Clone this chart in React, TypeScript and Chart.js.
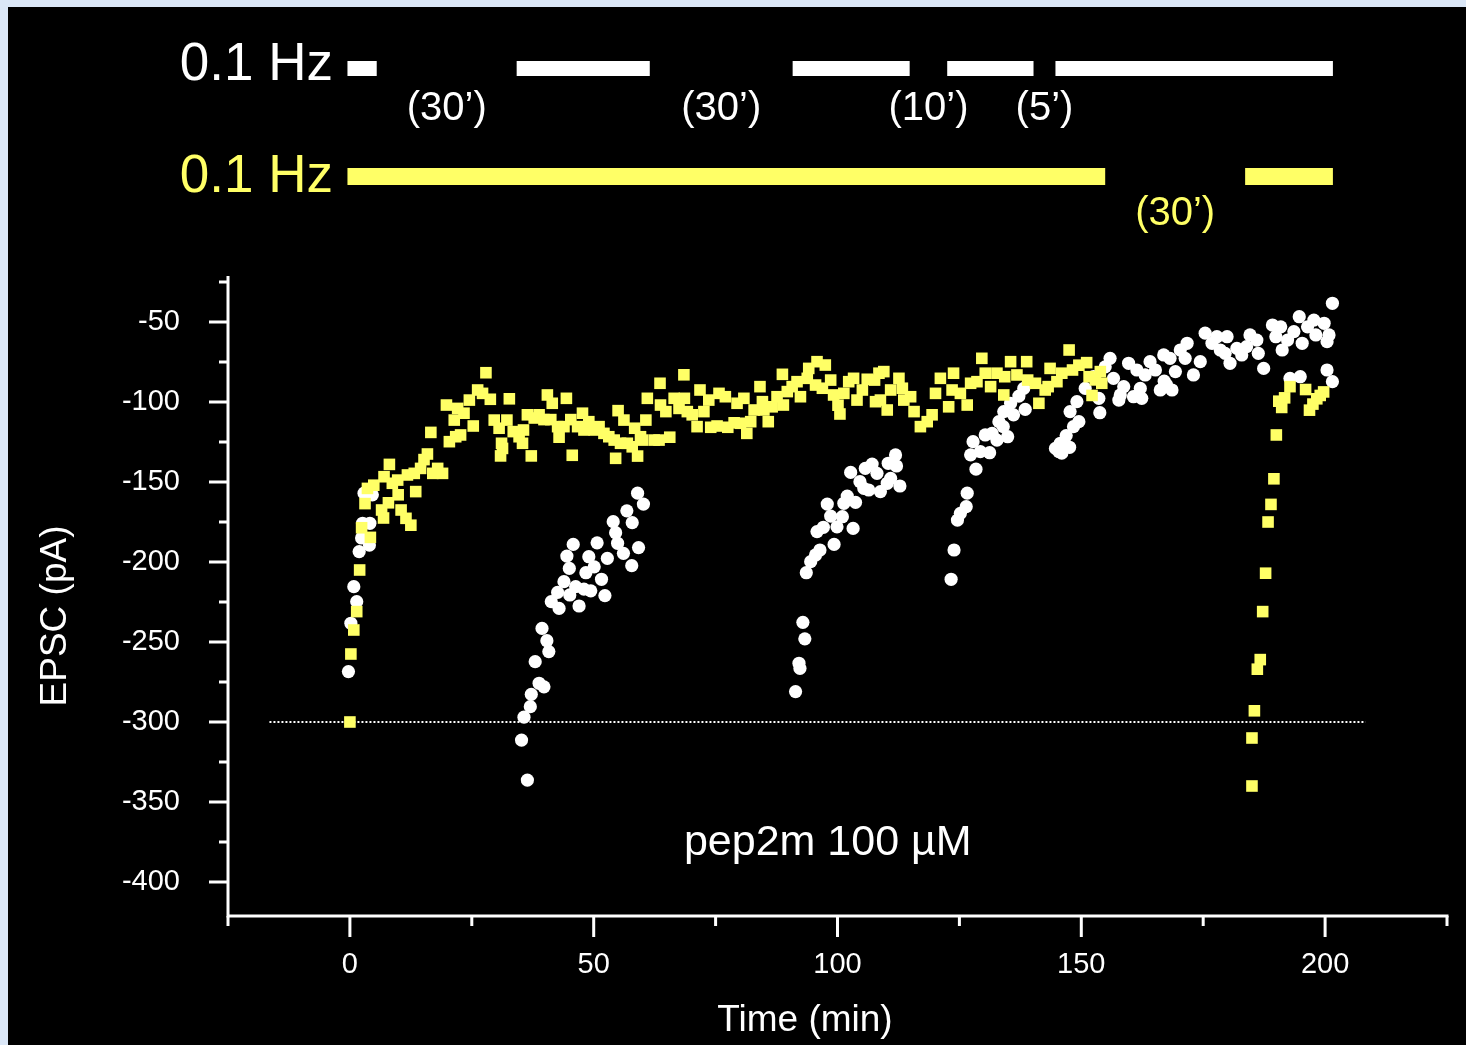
import React, { useEffect, useRef } from 'react';
import { Chart, registerables } from 'chart.js';

Chart.register(...registerables);

// ---- data ----
const yellowTime = [
  0, 0.2, 0.8, 1.4, 2.0, 2.4, 3.1, 3.6, 4.2, 4.9, 6.5, 6.9, 7.0, 7.9, 8.1, 8.7, 9.8, 9.9, 10.5, 11.5,
  11.8, 12.5, 13.2, 13.5, 14.5, 15.2, 15.9, 16.6, 17.0, 18.0, 19.0, 19.8, 20.4, 21.4, 21.7, 22.1, 22.7, 23.4, 24.5, 25.3,
  26.2, 27.2, 27.9, 28.8, 29.6, 30.6, 30.9, 31.1, 31.3, 32.2, 32.7, 33.5, 34.7, 35.4, 35.6, 36.4, 37.2, 37.8, 38.8, 39.8,
  40.5, 41.2, 41.5, 42.6, 42.9, 43.9, 44.4, 45.3, 45.6, 46.7, 47.7, 48.0, 49.0, 50.1, 51.1, 52.1, 53.1, 54.2, 54.5, 55.0,
  55.5, 56.2, 56.9, 57.9, 58.4, 59.0, 59.6, 60.0, 60.7, 61.0, 62.4, 63.4, 63.6, 63.7, 64.8, 65.6, 66.5, 67.5, 68.5, 68.6,
  69.2, 70.2, 71.2, 71.8, 72.6, 73.6, 74.0, 75.3, 75.7, 77.0, 77.5, 78.8, 79.4, 80.1, 80.8, 81.4, 82.2, 82.9, 84.1, 84.6,
  84.9, 85.8, 86.6, 87.6, 88.7, 88.9, 89.7, 90.7, 91.7, 92.4, 93.8, 94.1, 95.5, 95.8, 96.9, 97.5, 98.6, 99.2, 100.1, 100.5,
  101.3, 102.3, 103.3, 104.0, 105.1, 106.1, 107.6, 107.8, 108.5, 108.8, 109.5, 110.2, 110.9, 112.6, 113.3, 113.6, 115.0, 115.7, 117.0, 118.4,
  119.4, 120.1, 121.1, 122.8, 123.5, 123.8, 125.2, 126.6, 127.3, 128.6, 129.6, 130.3, 131.4, 132.7, 134.1, 134.3, 135.5, 136.8, 138.8, 139.0,
  140.6, 141.3, 142.6, 143.2, 143.6, 145.0, 146.0, 147.5, 148.2, 149.5, 151.1, 151.6, 152.2, 152.9, 153.9, 154.2,
  185.0, 185.0, 185.5, 186.1, 186.7, 187.2, 187.8, 188.3, 188.9, 189.5, 190.0, 190.5, 191.1, 191.7, 192.8, 196.0, 196.8, 197.5, 198.3, 199.0,
  199.7,
];
const yellowEpsc = [
  -300, -257.5, -242.5, -231, -205, -178.6, -163.5, -154, -184.6, -152, -167.5, -172.5, -146.7, -163, -139, -150.8, -148.8, -158, -167.5, -172.7,
  -145.6, -177, -144.6, -156, -141.5, -136, -132.5, -119, -144.6, -141.5, -144.6, -101.9, -124.8, -111.3, -121.7, -104, -120.6, -107, -98.8, -115,
  -92.5, -94.6, -81.7, -98.3, -111.3, -116.4, -133.7, -125.8, -129, -111.3, -98, -118.5, -121.7, -125.8, -117.5, -108, -133.7, -110, -108, -111,
  -95.6, -111, -100.8, -115.4, -122, -115.4, -97.7, -111, -133.3, -115.4, -107, -117.5, -112.3, -117.5, -115.4, -119.6, -121.7, -123.8, -135.2, -105.4,
  -125.8, -111.3, -125.8, -128, -116.4, -133.8, -121.7, -123.8, -111.3, -97.7, -123.8, -123.8, -88.3, -101.9, -106, -122, -97.7, -104, -83, -97.7,
  -106, -108, -115.4, -92.5, -106, -98.8, -115.8, -115, -94.6, -96.7, -115.8, -113, -100.8, -113.3, -97.7, -119.6, -112.3, -105, -90.4, -99.8,
  -105, -112.3, -103, -96.7, -82.7, -101.9, -93.5, -90.4, -87.3, -96.7, -85.2, -79, -89.4, -74.8, -91.4, -76.9, -86.3, -95.6, -102, -107.5,
  -94.6, -87.3, -85.2, -98.8, -92.5, -85.8, -86.3, -99.8, -82, -98.8, -81, -105, -92.5, -85.2, -91.4, -98.8, -96.7, -106, -115.4, -112.3,
  -108, -94.6, -85.2, -103, -92.5, -82, -94.6, -101.9, -88.3, -87.3, -72.7, -82, -90.4, -82, -95.6, -84.2, -74.8, -83.1, -74.8, -86.3,
  -88.3, -100.8, -92.5, -90.4, -79, -87.3, -82, -67.5, -80, -77, -75.4, -84.2, -95.9, -86.2, -81, -88.3,
  -340, -310, -293, -267, -261, -231, -207, -175, -164, -148, -120.6, -99.5, -103.4, -97.4, -90.4, -92.2, -105.1, -101.3, -98, -95.9,
  -93.7,
];
const whiteTime = [
  -0.3, 0.2, 0.8, 1.4, 1.9, 2.4, 2.6, 2.9, 4.0, 4.1, 4.6,
  35.2, 35.7, 36.4, 37.0, 37.2, 38.0, 38.8, 39.4, 39.8, 40.4, 40.8, 41.3, 42.6, 42.9, 43.9, 44.5, 45.0, 45.1, 45.8, 46.3,
  47.0, 48.0, 48.4, 49.0, 49.4, 50.1, 50.7, 51.6, 52.3, 52.8, 54.0, 54.5, 54.9, 56.1, 56.8, 57.8, 57.9, 59.0, 59.2, 60.2,
  91.4, 92.1, 92.3, 92.9, 93.3, 93.6, 94.5, 95.5, 95.8, 96.4, 97.1, 97.9, 98.6, 99.3, 99.9, 101.0, 101.3, 102.0, 102.7, 103.2,
  103.7, 104.6, 105.4, 105.7, 106.4, 107.1, 108.1, 108.8, 110.2, 110.4, 110.9, 111.9, 112.1, 112.8,
  123.3, 123.9, 124.6, 125.2, 126.4, 126.6, 127.3, 127.8, 128.4, 129.3, 130.3, 131.2, 131.7, 132.7, 133.1, 134.0, 134.1, 134.9, 135.5, 136.1,
  137.2, 138.2, 138.5,
  144.7, 145.4, 145.7, 146.0, 146.9, 147.6, 147.7, 148.4, 149.1, 149.5, 150.8, 152.5, 153.6, 153.8, 154.9, 155.9, 156.6, 157.7, 158.0, 158.7,
  159.7, 160.7, 161.4, 162.1, 162.4, 163.1, 164.1, 165.2, 166.2, 166.9, 167.0, 167.5, 168.2, 168.6, 169.3, 170.3, 171.3, 171.7, 173.0, 174.4,
  175.4, 176.8, 177.8, 178.5, 179.5, 179.9, 180.5, 181.9, 182.9, 183.9, 184.6, 186.0, 186.3, 187.4, 189.2, 189.9, 190.9, 191.2, 192.3, 192.8,
  193.6, 194.7, 194.9, 195.3, 196.4, 197.7, 198.1, 199.8, 200.4, 200.4, 200.8, 201.5, 201.5,
];
const whiteEpsc = [
  -268.5, -238.3, -215.4, -224.8, -193.5, -185, -175.8, -157, -189.4, -175.8, -158,
  -311.3, -297, -336.3, -290.4, -282.7, -262.3, -275.8, -241.5, -278, -249.2, -256, -224.8, -219, -229, -212.3, -196.3, -204, -220.6, -189, -215.4,
  -227.5, -217, -206.7, -196.7, -218, -203, -188, -210.8, -221, -197.7, -174.8, -181.7, -188.3, -194.6, -168, -202.3, -175.4, -157, -191, -163.8,
  -281, -263.3, -266.5, -237.7, -248, -206.7, -199.8, -195.6, -181, -192.5, -178.3, -163.8, -171.3, -189, -178, -171.7, -163.3, -158.8, -144, -179,
  -162.7, -149.8, -154, -141.5, -155, -138.8, -144.6, -156, -150.8, -138.3, -147.7, -133.1, -140, -152.5,
  -210.8, -192.5, -173.8, -169.6, -165.4, -157, -133, -124.8, -142, -131, -120.6, -131.7, -119.6, -123.8, -112.3, -115.4, -106, -121.7, -100.8, -108,
  -96.3, -91.5, -104.6,
  -129, -131, -125.8, -132, -121, -128.3, -106, -115.4, -99.8, -112.3, -91.5, -84.2, -97.7, -106.7, -78, -72.7, -85.2, -98.8, -95.6, -90.4,
  -75.8, -96.7, -80, -91.5, -97.7, -83.1, -74.8, -80, -92.5, -70.6, -87, -89.4, -72.7, -92.5, -81, -67.5, -72.7, -63.3, -83.1, -74.8,
  -57, -63.3, -59.2, -67.5, -69.6, -59.2, -75.8, -66.5, -70.6, -65.4, -58.1, -61.3, -69.6, -79, -51.9, -59.2, -53, -67.5, -61.3, -85.2,
  -56, -46.7, -84.2, -63.3, -53, -48.8, -58.1, -50.8, -62.3, -80, -58.1, -38.3, -87.3,
];

const xMajorTicks = [0, 50, 100, 150, 200];
const xMinorTicks = [-25, 25, 75, 125, 175, 225];
const yMajorTicks = [-400, -350, -300, -250, -200, -150, -100, -50];
const yMinorTicks = [-375, -325, -275, -225, -175, -125, -75, -25];

// stimulation bars (minutes) and gap labels
const whiteBars = [[-0.5, 5.5], [34.2, 61.5], [90.8, 114.8], [122.5, 140.2], [144.7, 201.6]];
const whiteGapLabels = ['(30\u2019)', '(30\u2019)', '(10\u2019)', '(5\u2019)'];
const yellowBars = [[-0.5, 154.9], [183.6, 201.6]];
const yellowGapLabels = ['(30\u2019)'];
const baselineEpsc = -300;
const baselineRange = [-16.5, 208.3];
const drugLabel = 'pep2m 100 \u00b5M';
const drugLabelPos = [98, -374];

const YELLOW = '#ffff66';
const WHITE = '#ffffff';
const FONT = "'Liberation Sans', Arial, Helvetica, sans-serif";

const decorPlugin = {
  id: 'decor',
  beforeDraw(chart: any) {
    const { ctx, width, height } = chart;
    ctx.save();
    ctx.fillStyle = '#dbe7f7';
    ctx.fillRect(0, 0, width, height);
    ctx.fillStyle = '#000000';
    ctx.fillRect(8, 7, width - 8, height - 7);
    ctx.restore();
  },
  beforeDatasetsDraw(chart: any) {
    const { ctx } = chart;
    const xs = chart.scales.x;
    const ys = chart.scales.y;
    ctx.save();
    ctx.strokeStyle = WHITE;
    ctx.lineWidth = 2;
    ctx.setLineDash([2, 2]);
    const py = Math.round(ys.getPixelForValue(baselineEpsc));
    ctx.beginPath();
    ctx.moveTo(xs.getPixelForValue(baselineRange[0]), py);
    ctx.lineTo(xs.getPixelForValue(baselineRange[1]), py);
    ctx.stroke();
    ctx.restore();
  },
  afterDraw(chart: any) {
    const { ctx } = chart;
    const xs = chart.scales.x;
    const ys = chart.scales.y;
    const left = xs.left;
    const right = xs.right;
    const top = ys.top;
    const bottom = ys.bottom;
    ctx.save();
    ctx.strokeStyle = WHITE;
    ctx.lineWidth = 3;
    ctx.lineCap = 'butt';
    // axes lines
    ctx.beginPath();
    ctx.moveTo(left, top);
    ctx.lineTo(left, bottom + 1.5);
    ctx.moveTo(left - 1.5, bottom);
    ctx.lineTo(right + 1.5, bottom);
    ctx.stroke();
    // x ticks
    ctx.beginPath();
    xMajorTicks.forEach((v) => {
      const px = xs.getPixelForValue(v);
      ctx.moveTo(px, bottom);
      ctx.lineTo(px, bottom + 21);
    });
    xMinorTicks.forEach((v) => {
      const px = xs.getPixelForValue(v);
      ctx.moveTo(px, bottom);
      ctx.lineTo(px, bottom + 10);
    });
    // y ticks
    yMajorTicks.forEach((v) => {
      const py = ys.getPixelForValue(v);
      ctx.moveTo(left, py);
      ctx.lineTo(left - 19, py);
    });
    yMinorTicks.forEach((v) => {
      const py = ys.getPixelForValue(v);
      ctx.moveTo(left, py);
      ctx.lineTo(left - 9, py);
    });
    ctx.stroke();

    // axis titles
    ctx.fillStyle = WHITE;
    ctx.font = `37px ${FONT}`;
    ctx.textAlign = 'center';
    ctx.textBaseline = 'alphabetic';
    ctx.fillText('Time (min)', 805, 1031);
    ctx.save();
    ctx.translate(66, 616);
    ctx.rotate(-Math.PI / 2);
    ctx.fillText('EPSC (pA)', 0, 0);
    ctx.restore();

    // drug label
    ctx.font = `43px ${FONT}`;
    ctx.fillText(drugLabel, xs.getPixelForValue(drugLabelPos[0]), ys.getPixelForValue(drugLabelPos[1]) + 15);

    // stimulation bars
    const drawBars = (bars: number[][], labels: string[], color: string, barTop: number, barH: number, labelY: number, headY: number) => {
      ctx.fillStyle = color;
      bars.forEach(([a, b]) => {
        const x1 = xs.getPixelForValue(a);
        const x2 = xs.getPixelForValue(b);
        ctx.fillRect(x1, barTop, x2 - x1, barH);
      });
      ctx.font = `40px ${FONT}`;
      ctx.textAlign = 'center';
      labels.forEach((lab, i) => {
        const mid = (bars[i][1] + bars[i + 1][0]) / 2;
        ctx.fillText(lab, xs.getPixelForValue(mid), labelY);
      });
      ctx.font = `53px ${FONT}`;
      ctx.textAlign = 'right';
      ctx.fillText('0.1 Hz', 333, headY);
    };
    drawBars(whiteBars, whiteGapLabels, WHITE, 61, 15, 120, 80);
    drawBars(yellowBars, yellowGapLabels, YELLOW, 168, 17, 225, 192);
    ctx.restore();
  },
};

export default function App() {
  const ref = useRef<HTMLCanvasElement | null>(null);
  useEffect(() => {
    if (!ref.current) return;
    const yellowData = yellowTime.map((t, i) => ({ x: t, y: yellowEpsc[i] }));
    const whiteData = whiteTime.map((t, i) => ({ x: t, y: whiteEpsc[i] }));
    const chart = new Chart(ref.current, {
      type: 'scatter',
      data: {
        datasets: [
          {
            label: '0.1 Hz (yellow)',
            data: yellowData,
            pointStyle: 'rect',
            pointRadius: 8.2,
            pointBorderWidth: 0,
            backgroundColor: YELLOW,
            borderColor: YELLOW,
          },
          {
            label: 'interrupted',
            data: whiteData,
            pointStyle: 'circle',
            pointRadius: 6.6,
            pointBorderWidth: 0,
            backgroundColor: WHITE,
            borderColor: WHITE,
          },
        ],
      },
      options: {
        responsive: false,
        animation: false,
        layout: { padding: { left: 0, top: 276, right: 19, bottom: 0 } },
        plugins: { legend: { display: false }, tooltip: { enabled: false } },
        scales: {
          x: {
            type: 'linear',
            min: -25,
            max: 225,
            grid: { display: false, drawTicks: false },
            border: { display: false },
            ticks: { color: WHITE, font: { family: FONT, size: 29 }, padding: 32, maxRotation: 0 },
            afterBuildTicks: (s: any) => { s.ticks = xMajorTicks.map((v) => ({ value: v })); },
            afterFit: (s: any) => { s.height = 129; },
          },
          y: {
            type: 'linear',
            min: -421.25,
            max: -21.25,
            grid: { display: false, drawTicks: false },
            border: { display: false },
            ticks: { color: WHITE, font: { family: FONT, size: 29 }, padding: 48 },
            afterBuildTicks: (s: any) => { s.ticks = yMajorTicks.map((v) => ({ value: v })); },
            afterFit: (s: any) => { s.width = 228; },
          },
        },
      },
      plugins: [decorPlugin],
    });
    return () => chart.destroy();
  }, []);
  return (
    <div style={{ position: 'fixed', left: 0, top: 0, width: 1466, height: 1045, overflow: 'hidden' }}>
      <canvas ref={ref} width={1466} height={1045} style={{ display: 'block' }} />
    </div>
  );
}
